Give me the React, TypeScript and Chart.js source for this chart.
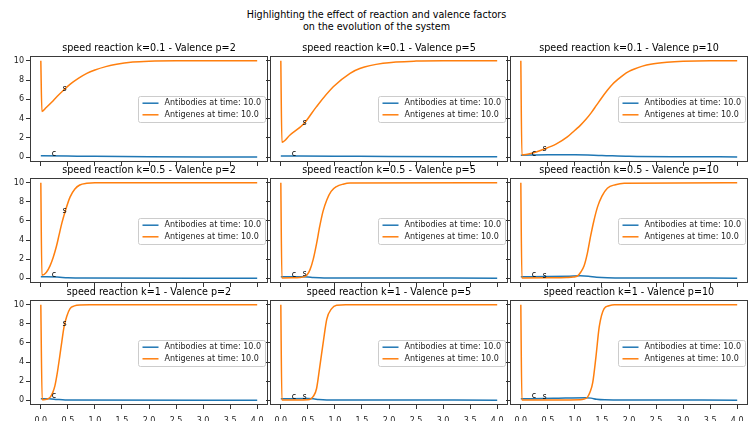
import React, { useEffect, useRef } from "react";
import { Chart, registerables } from "chart.js";

Chart.register(...registerables);

const FONT = '"DejaVu Sans", "Liberation Sans", sans-serif';
const BLUE = "#1f77b4";
const ORANGE = "#ff7f0e";

const FIGURE_TITLE = [
  "Highlighting the effect of reaction and valence factors",
  "on the evolution of the system",
];
const K_VALUES = ["0.1", "0.5", "1"];
const P_VALUES = ["2", "5", "10"];
const X_TICKS = [0, 0.5, 1, 1.5, 2, 2.5, 3, 3.5, 4];
const Y_TICKS = [0, 2, 4, 6, 8, 10];
const LEGEND_LABELS = ["Antibodies at time: 10.0", "Antigenes at time: 10.0"];

// k = 0.1, p = 2
const agT_k01_p2 = [0, 0.02, 0.1, 0.2, 0.3, 0.42, 0.55, 0.7, 0.85, 1.0, 1.2, 1.4, 1.7, 2.0, 2.5, 3.0, 4.0];
const agV_k01_p2 = [10, 4.75, 5.15, 5.7, 6.3, 6.95, 7.6, 8.2, 8.7, 9.05, 9.4, 9.65, 9.87, 9.96, 10, 10, 10];
const abT_k01_p2 = [0, 0.5, 1, 2, 3, 4];
const abV_k01_p2 = [0.15, 0.12, 0.09, 0.05, 0.03, 0.02];

// k = 0.1, p = 5
const agT_k01_p5 = [0, 0.02, 0.17, 0.43, 0.66, 0.97, 1.28, 1.46, 1.89, 2.5, 3.0, 4.0];
const agV_k01_p5 = [10, 1.55, 2.3, 3.5, 5.25, 7.3, 8.7, 9.2, 9.74, 9.97, 10, 10];
const abT_k01_p5 = [0, 1, 2, 4];
const abV_k01_p5 = [0.12, 0.1, 0.07, 0.05];

// k = 0.1, p = 10
const agT_k01_p10 = [0, 0.02, 0.2, 0.42, 0.65, 0.86, 1.0, 1.1, 1.2, 1.3, 1.4, 1.5, 1.6, 1.7, 1.8, 1.9, 2.0, 2.1, 2.25, 2.4, 2.7, 3.0, 3.5, 4.0];
const agV_k01_p10 = [10, 0.23, 0.4, 0.82, 1.35, 2.1, 2.8, 3.3, 3.9, 4.6, 5.4, 6.2, 6.95, 7.6, 8.1, 8.55, 8.9, 9.15, 9.45, 9.65, 9.85, 9.95, 10, 10];
const abT_k01_p10 = [0, 0.5, 1.0, 1.5, 2.0, 3.0, 4.0];
const abV_k01_p10 = [0.2, 0.25, 0.25, 0.18, 0.1, 0.05, 0.03];

// k = 0.5, p = 2
const agT_k05_p2 = [0, 0.02, 0.1, 0.17, 0.23, 0.29, 0.34, 0.39, 0.45, 0.54, 0.63, 0.72, 0.85, 1.0, 4.0];
const agV_k05_p2 = [10, 0.3, 0.6, 1.3, 2.2, 3.37, 4.6, 5.8, 7.0, 8.5, 9.35, 9.77, 9.95, 10, 10];
const abT_k05_p2 = [0, 0.3, 0.5, 0.8, 4.0];
const abV_k05_p2 = [0.15, 0.12, 0.05, 0.02, 0.01];

// k = 0.5, p = 5
const agT_k05_p5 = [0, 0.02, 0.2, 0.35, 0.42, 0.48, 0.54, 0.6, 0.66, 0.72, 0.78, 0.85, 0.93, 1.03, 1.15, 1.28, 4.0];
const agV_k05_p5 = [10, 0.03, 0.04, 0.08, 0.14, 0.3, 0.9, 2.0, 3.6, 5.45, 7.0, 8.2, 9.1, 9.6, 9.85, 9.97, 10];
const abT_k05_p5 = [0, 0.4, 0.5, 0.6, 0.8, 1.5, 4.0];
const abV_k05_p5 = [0.15, 0.15, 0.13, 0.08, 0.03, 0.02, 0.01];

// k = 0.5, p = 10
const agT_k05_p10 = [0, 0.02, 0.5, 0.85, 0.97, 1.05, 1.11, 1.17, 1.23, 1.29, 1.35, 1.42, 1.5, 1.6, 1.75, 1.91, 4.0];
const agV_k05_p10 = [10, 0.03, 0.04, 0.07, 0.12, 0.25, 0.65, 1.3, 2.6, 4.4, 6.0, 7.5, 8.6, 9.43, 9.8, 9.95, 10];
const abT_k05_p10 = [0, 0.5, 0.9, 1.1, 1.25, 1.4, 1.6, 2.0, 4.0];
const abV_k05_p10 = [0.15, 0.18, 0.22, 0.25, 0.2, 0.1, 0.04, 0.02, 0.01];

// k = 1, p = 2
const agT_k1_p2 = [0, 0.025, 0.08, 0.13, 0.17, 0.22, 0.26, 0.3, 0.35, 0.39, 0.43, 0.48, 0.54, 0.62, 0.72, 0.9, 4.0];
const agV_k1_p2 = [10, 0.05, 0.07, 0.15, 0.3, 0.8, 1.5, 2.7, 4.6, 6.2, 7.7, 8.8, 9.6, 9.88, 9.98, 10, 10];
const abT_k1_p2 = [0, 0.15, 0.3, 0.45, 4.0];
const abV_k1_p2 = [0.15, 0.15, 0.08, 0.03, 0.01];

// k = 1, p = 5
const agT_k1_p5 = [0, 0.02, 0.3, 0.5, 0.55, 0.6, 0.66, 0.72, 0.79, 0.85, 0.94, 1.03, 1.2, 4.0];
const agV_k1_p5 = [10, 0.02, 0.02, 0.05, 0.12, 0.4, 1.2, 3.5, 6.3, 8.5, 9.6, 9.95, 10, 10];
const abT_k1_p5 = [0, 0.5, 0.6, 0.7, 0.85, 1.2, 4.0];
const abV_k1_p5 = [0.15, 0.17, 0.15, 0.08, 0.03, 0.02, 0.01];

// k = 1, p = 10
const agT_k1_p10 = [0, 0.02, 0.6, 1.1, 1.17, 1.23, 1.28, 1.33, 1.39, 1.45, 1.54, 1.63, 1.73, 4.0];
const agV_k1_p10 = [10, 0.02, 0.03, 0.05, 0.12, 0.3, 0.85, 1.86, 4.6, 7.7, 9.6, 9.9, 10, 10];
const abT_k1_p10 = [0, 0.6, 1.2, 1.3, 1.4, 1.55, 2.0, 4.0];
const abV_k1_p10 = [0.15, 0.2, 0.27, 0.22, 0.1, 0.04, 0.02, 0.01];

// "c" and "s" markers (time, value) per subplot, row-major order
const C_LABEL_TIME = 0.2;
const S_LABEL_TIME = 0.4;
const C_LABEL_VALUES = [0.1, 0.12, 0.1, 0.12, 0.12, 0.1, 0.2, 0.1, 0.2];
const S_LABEL_VALUES = [6.9, 3.3, 0.6, 6.8, 0.2, 0.0, 7.75, 0.1, 0.1];

const SUBPLOTS = [
  [agT_k01_p2, agV_k01_p2, abT_k01_p2, abV_k01_p2],
  [agT_k01_p5, agV_k01_p5, abT_k01_p5, abV_k01_p5],
  [agT_k01_p10, agV_k01_p10, abT_k01_p10, abV_k01_p10],
  [agT_k05_p2, agV_k05_p2, abT_k05_p2, abV_k05_p2],
  [agT_k05_p5, agV_k05_p5, abT_k05_p5, abV_k05_p5],
  [agT_k05_p10, agV_k05_p10, abT_k05_p10, abV_k05_p10],
  [agT_k1_p2, agV_k1_p2, abT_k1_p2, abV_k1_p2],
  [agT_k1_p5, agV_k1_p5, abT_k1_p5, abV_k1_p5],
  [agT_k1_p10, agV_k1_p10, abT_k1_p10, abV_k1_p10],
];

// layout
const COL_LEFT = [30, 270, 510];
const COL_W = 238;
const ROW_TOP = [56, 178, 300];
const ROW_H = [106, 105, 105];
const PAD_L = 30;
const PAD_R = 6;
const PAD_T = 22;
const PAD_B = 18;

function toPoints(ts: number[], vs: number[]) {
  return ts.map((t, i) => ({ x: t, y: vs[i] }));
}

function Subplot({ r, c }: { r: number; c: number }) {
  const ref = useRef<HTMLCanvasElement | null>(null);
  const W = COL_W + PAD_L + PAD_R;
  const H = ROW_H[r] + PAD_T + PAD_B;
  useEffect(() => {
    const idx = r * 3 + c;
    const [agT, agV, abT, abV] = SUBPLOTS[idx];
    const title = `speed reaction k=${K_VALUES[r]} - Valence p=${P_VALUES[c]}`;

    const decor = {
      id: "decor",
      afterDatasetsDraw(chart: any) {
        const { ctx, chartArea: ca, scales } = chart;
        ctx.save();
        // c / s markers
        ctx.font = `8px ${FONT}`;
        ctx.fillStyle = "#000";
        ctx.textAlign = "left";
        ctx.textBaseline = "alphabetic";
        ctx.fillText("c", scales.x.getPixelForValue(C_LABEL_TIME), scales.y.getPixelForValue(C_LABEL_VALUES[idx]));
        ctx.fillText("s", scales.x.getPixelForValue(S_LABEL_TIME), scales.y.getPixelForValue(S_LABEL_VALUES[idx]));

        // legend
        ctx.font = `8px ${FONT}`;
        const tw = Math.max(...LEGEND_LABELS.map((l) => ctx.measureText(l).width));
        const bw = Math.round(4 + 16 + 6 + tw + 4);
        const bh = 26;
        const bx = Math.round(ca.right - 3 - bw) + 0.5;
        const by = Math.round((ca.top + ca.bottom) / 2 - bh / 2) + 0.5;
        const rad = 2;
        ctx.beginPath();
        ctx.moveTo(bx + rad, by);
        ctx.lineTo(bx + bw - rad, by);
        ctx.arcTo(bx + bw, by, bx + bw, by + rad, rad);
        ctx.lineTo(bx + bw, by + bh - rad);
        ctx.arcTo(bx + bw, by + bh, bx + bw - rad, by + bh, rad);
        ctx.lineTo(bx + rad, by + bh);
        ctx.arcTo(bx, by + bh, bx, by + bh - rad, rad);
        ctx.lineTo(bx, by + rad);
        ctx.arcTo(bx, by, bx + rad, by, rad);
        ctx.closePath();
        ctx.fillStyle = "rgba(255,255,255,0.8)";
        ctx.fill();
        ctx.strokeStyle = "#cccccc";
        ctx.lineWidth = 1;
        ctx.stroke();
        const rows = [by + 6.7, by + 18.3];
        const colors = [BLUE, ORANGE];
        rows.forEach((yy, i) => {
          ctx.beginPath();
          ctx.strokeStyle = colors[i];
          ctx.lineWidth = 1.5;
          ctx.moveTo(bx + 4, yy);
          ctx.lineTo(bx + 20, yy);
          ctx.stroke();
          ctx.fillStyle = "#222";
          ctx.textBaseline = "middle";
          ctx.fillText(LEGEND_LABELS[i], bx + 26, yy);
        });
        ctx.restore();
      },
      afterDraw(chart: any) {
        const { ctx, chartArea: ca } = chart;
        ctx.save();
        ctx.strokeStyle = "#3a3a3a";
        ctx.lineWidth = 1;
        ctx.strokeRect(ca.left + 0.5, ca.top + 0.5, ca.right - ca.left - 1, ca.bottom - ca.top - 1);
        ctx.font = `9.6px ${FONT}`;
        ctx.fillStyle = "#000";
        ctx.textAlign = "center";
        ctx.textBaseline = "alphabetic";
        ctx.fillText(title, (ca.left + ca.right) / 2, ca.top - 5);
        ctx.restore();
      },
    };

    const chart = new Chart(ref.current as HTMLCanvasElement, {
      type: "line",
      data: {
        datasets: [
          {
            label: LEGEND_LABELS[1],
            data: toPoints(agT, agV),
            borderColor: ORANGE,
            borderWidth: 1.5,
            pointRadius: 0,
            cubicInterpolationMode: "monotone",
            fill: false,
          },
          {
            label: LEGEND_LABELS[0],
            data: toPoints(abT, abV),
            borderColor: BLUE,
            borderWidth: 1.5,
            pointRadius: 0,
            cubicInterpolationMode: "monotone",
            fill: false,
          },
        ],
      },
      options: {
        animation: false,
        responsive: false,
        events: [],
        layout: { padding: { top: PAD_T, right: PAD_R, left: 0, bottom: 0 } },
        plugins: {
          legend: { display: false },
          tooltip: { enabled: false },
          title: { display: false },
        },
        scales: {
          x: {
            type: "linear",
            min: -0.2,
            max: 4.2,
            afterBuildTicks: (s: any) => {
              s.ticks = X_TICKS.map((v) => ({ value: v }));
            },
            afterFit: (s: any) => {
              s.height = PAD_B;
            },
            grid: { drawOnChartArea: false, drawTicks: true, tickLength: 4, color: "#333" },
            border: { display: false },
            ticks: {
              display: r === 2,
              autoSkip: false,
              maxRotation: 0,
              padding: 7,
              color: "#222",
              font: { family: FONT, size: 8 },
              callback: (v: any) => Number(v).toFixed(1),
            },
          },
          y: {
            type: "linear",
            min: -0.5,
            max: 10.5,
            afterBuildTicks: (s: any) => {
              s.ticks = Y_TICKS.map((v) => ({ value: v }));
            },
            afterFit: (s: any) => {
              s.width = PAD_L;
            },
            grid: { drawOnChartArea: false, drawTicks: true, tickLength: 4, color: "#333" },
            border: { display: false },
            ticks: {
              display: c === 0,
              padding: 2,
              color: "#222",
              font: { family: FONT, size: 8 },
              callback: (v: any) => String(v),
            },
          },
        },
      },
      plugins: [decor],
    } as any);
    return () => chart.destroy();
  }, [r, c]);

  return (
    <canvas
      ref={ref}
      width={W}
      height={H}
      style={{
        position: "absolute",
        left: COL_LEFT[c] - PAD_L,
        top: ROW_TOP[r] - PAD_T,
        width: W,
        height: H,
      }}
    />
  );
}

export default function App() {
  const cells: React.ReactElement[] = [];
  for (let r = 0; r < 3; r++) {
    for (let c = 0; c < 3; c++) {
      cells.push(<Subplot key={`${r}-${c}`} r={r} c={c} />);
    }
  }
  return (
    <div
      style={{
        position: "fixed",
        left: 0,
        top: 0,
        width: 753,
        height: 421,
        background: "#fff",
        overflow: "hidden",
      }}
    >
      <div
        style={{
          position: "absolute",
          left: 0,
          top: 9,
          width: 753,
          textAlign: "center",
          fontFamily: FONT,
          fontSize: "9.6px",
          lineHeight: "12px",
          color: "#000",
        }}
      >
        {FIGURE_TITLE.map((line, i) => (
          <div key={i}>{line}</div>
        ))}
      </div>
      {cells}
    </div>
  );
}
